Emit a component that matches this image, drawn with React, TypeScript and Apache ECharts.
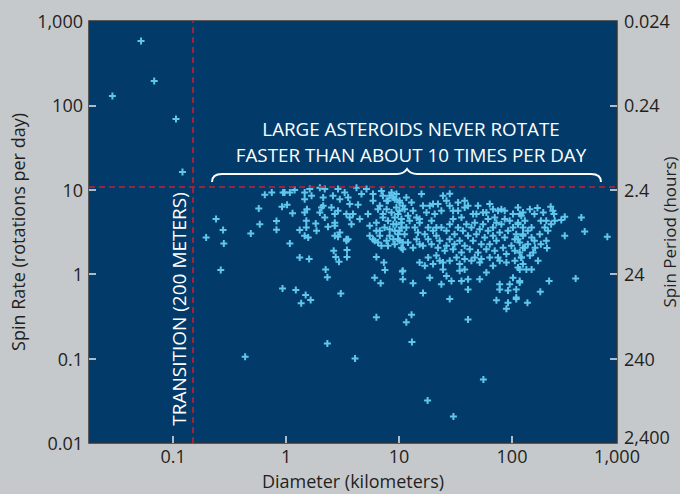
import React, { useEffect, useRef } from 'react';
import * as echarts from 'echarts';

// [diameter km, rotations per day]
const fastSmallRotators: number[][] = [
  [0.029, 129], [0.052, 578], [0.068, 194], [0.106, 69], [0.121, 16.2],
];

const subKmAsteroids: number[][] = [
  [0.196, 2.72], [0.24, 4.5], [0.264, 1.12], [0.277, 3.33], [0.281, 2.31], [0.434, 0.105],
  [0.487, 3.04], [0.573, 6.0], [0.585, 3.92], [0.648, 8.73], [0.747, 9.29], [0.822, 4.26],
  [0.822, 3.36], [0.92, 6.29], [0.93, 0.678], [0.94, 9.29],
];

const oneToTenKm: number[][] = [
  [0.97, 9.29], [1.08, 9.29], [1.19, 9.92], [1.46, 9.29], [1.62, 10.2], [1.99, 10.6], [1.68, 8.5],
  [1.46, 7.75], [2.2, 10.2], [2.6, 8.5], [2.88, 10.2], [2.99, 7.75], [2.13, 8.1], [2.06, 6.17],
  [3.3, 9.29], [3.54, 8.1], [4.2, 10.6], [4.65, 8.9], [5.15, 10.2], [5.88, 8.9], [5.88, 7.4],
  [6.98, 9.7], [7.76, 7.4], [8.58, 9.29], [9.17, 7.75], [10.1, 7.07],
  [1.02, 6.65], [1.14, 5.29], [1.46, 5.38], [1.53, 5.9], [2.13, 6.47], [2.52, 6.17], [2.88, 5.63],
  [3.66, 6.77], [4.34, 6.65], [3.66, 4.7], [4.49, 4.5], [5.31, 5.15], [5.5, 3.74], [6.51, 5.9],
  [7.2, 5.15], [7.98, 4.29], [8.26, 3.42], [9.48, 6.17], [10.5, 4.5], [10.1, 3.27], [5.5, 2.85],
  [6.08, 2.49], [6.98, 2.17], [7.98, 2.17], [9.17, 2.27], [10.8, 2.37],
  [1.51, 4.29], [1.51, 3.58], [1.32, 3.33], [1.83, 4.0], [1.86, 3.27], [2.35, 3.65], [2.7, 4.08],
  [2.7, 3.74], [2.99, 3.12], [2.88, 2.77], [3.54, 2.6], [1.46, 2.85], [1.57, 2.72], [1.08, 2.31],
  [1.32, 1.58], [1.6, 1.51], [2.64, 1.89], [2.75, 1.6], [2.94, 1.4], [3.46, 1.94], [3.46, 1.6],
  [2.24, 1.14], [2.32, 0.92], [6.3, 1.6], [7.34, 1.38], [7.5, 1.12], [6.08, 0.91], [6.87, 0.78],
  [10.7, 1.08], [1.22, 0.65], [1.49, 0.566], [1.65, 0.496], [1.36, 0.454], [3.05, 0.59], [6.3, 0.31],
  [3.42, 2.49], [8.26, 8.5], [9.48, 8.9], [9.8, 5.15], [8.9, 3.92], [9.8, 2.98], [8.9, 2.6],
  [6.76, 3.27], [6.3, 4.08], [6.76, 6.47], [7.2, 4.7], [7.76, 5.9], [8.58, 5.38], [9.17, 4.7],
  [10.1, 5.63], [9.48, 3.92], [10.5, 3.58], [9.17, 3.27], [8.26, 2.85], [9.8, 2.6], [10.5, 2.06],
  [7.76, 2.49], [6.76, 2.85], [7.45, 3.58], [6.3, 3.27], [5.88, 2.6], [6.51, 2.37], [7.98, 7.4],
  [8.9, 8.1], [7.2, 8.5], [3.42, 5.15], [3.91, 5.15], [3.79, 3.92], [2.7, 5.15], [2.7, 2.85],
  [2.2, 4.7], [1.99, 5.38], [3.42, 2.6],
];

const tenToHundredKm: number[][] = [
  [15.8, 8.9], [24.5, 8.5], [28.1, 9.0], [11.6, 8.1], [12.9, 7.07], [10.8, 6.47], [13.3, 5.63],
  [12.0, 4.93], [10.5, 4.08], [11.6, 3.58], [13.8, 3.58], [15.2, 4.08], [16.3, 6.47], [18.7, 6.47],
  [22.1, 6.77], [26.3, 7.4], [28.1, 6.47], [17.5, 5.38], [20.7, 5.15], [23.7, 5.63], [30.1, 5.63],
  [33.3, 5.63], [38.1, 6.17], [40.8, 6.47], [50.0, 6.47], [63.5, 6.77], [75.2, 5.63], [86.2, 5.63],
  [121, 4.93], [113, 4.08], [95.4, 4.29], [80.5, 3.92], [67.9, 3.58], [55.4, 3.92], [46.8, 4.08],
  [39.5, 3.92], [33.3, 3.58], [28.1, 3.92], [23.7, 3.58], [20.0, 3.27], [16.9, 2.98], [14.3, 2.6],
  [12.0, 2.37], [10.8, 1.98], [13.3, 2.06], [16.3, 2.17], [19.4, 2.27], [22.9, 2.49], [28.1, 2.6],
  [34.4, 2.49], [40.8, 2.85], [48.4, 2.98], [57.3, 2.72], [67.9, 2.85], [77.8, 3.12], [92.2, 3.27],
  [109, 2.98], [125, 3.58], [117, 2.37], [98.8, 2.17], [83.4, 2.06], [70.3, 1.89], [59.3, 1.98],
  [50.0, 1.81], [42.3, 1.98], [35.7, 1.81], [30.1, 1.98], [25.4, 1.89], [21.4, 1.66], [18.1, 1.58],
  [15.2, 1.38], [16.9, 1.26], [20.0, 1.32], [24.5, 1.38], [24.5, 1.14], [26.3, 0.95], [29.1, 0.83],
  [23.7, 0.76], [18.7, 0.91], [34.4, 1.32], [34.4, 1.1], [38.1, 1.14], [35.7, 0.83], [40.8, 0.87],
  [40.8, 0.66], [43.7, 1.44], [51.8, 1.38], [51.8, 0.87], [59.3, 1.05], [67.9, 1.26], [77.8, 1.44],
  [89.2, 1.38], [106, 1.44], [121, 1.58], [117, 1.14], [102, 0.91], [95.4, 0.76], [77.8, 0.76],
  [77.8, 0.66], [92.2, 0.64], [109, 0.66], [117, 0.8], [72.8, 0.49], [92.2, 0.46], [89.2, 0.39],
  [109, 0.51], [28.1, 0.51], [16.3, 0.6], [13.3, 0.78], [10.8, 1.1], [10.8, 0.87], [12.9, 0.33],
  [11.6, 0.27], [40.8, 0.29],
  [55.4, 5.38], [45.2, 5.15], [61.4, 4.5], [70.3, 4.7], [102, 5.15], [35.7, 4.7], [30.1, 4.5],
  [19.4, 4.29], [11.2, 2.98], [14.7, 3.12], [21.4, 2.85], [10.1, 2.49],
  [10.1, 7.4], [11.2, 5.9], [12.4, 4.29], [14.3, 4.7], [15.2, 2.27], [18.1, 3.58], [18.1, 2.6],
  [21.4, 3.58], [22.1, 2.06], [26.3, 3.27], [26.3, 2.17], [31.0, 2.98], [31.0, 2.27], [36.8, 3.27],
  [38.1, 2.17], [43.7, 3.58], [45.2, 2.49], [51.8, 3.42], [53.5, 2.27], [61.4, 3.27], [63.5, 2.27],
  [72.8, 4.08], [72.8, 2.49], [86.2, 2.72], [86.2, 4.5], [102, 3.58], [106, 2.6], [125, 2.85],
  [125, 2.06], [106, 1.89], [89.2, 1.73], [75.2, 1.58], [63.5, 1.58], [53.5, 1.51], [46.8, 1.58],
  [38.1, 1.51], [32.3, 1.58], [28.1, 1.44], [22.9, 1.44], [15.2, 4.5], [20.0, 6.77], [33.3, 7.07],
  [38.1, 7.4], [48.4, 5.15], [59.3, 5.38], [67.9, 5.9], [80.5, 5.9], [113, 6.17], [125, 5.38],
];

const overHundredKm: number[][] = [
  [144, 5.9], [168, 6.07], [220, 6.29], [235, 5.15], [293, 4.79], [273, 4.4], [411, 4.7], [440, 3.21],
  [293, 2.85], [698, 2.77], [208, 3.27], [201, 2.49], [204, 2.04], [160, 2.06], [170, 1.44],
  [149, 1.14], [125, 1.32], [117, 0.83], [109, 0.53], [137, 0.46], [178, 0.62], [213, 0.83],
  [366, 0.89], [239, 4.29], [180, 4.29], [158, 5.15], [195, 3.58], [130, 4.29], [117, 5.15],
  [138, 3.27], [158, 2.49], [130, 2.06], [121, 1.58], [144, 1.66], [113, 2.6], [222, 3.92],
  [113, 3.92], [125, 2.98], [149, 3.58], [176, 2.98], [149, 2.72], [180, 2.27], [138, 2.27],
  [117, 1.81], [154, 1.81], [134, 1.14], [113, 1.2], [230, 5.63], [189, 5.38], [201, 4.29],
];

const slowRotators: number[][] = [
  [2.32, 0.151], [4.08, 0.1], [13.0, 0.157], [55.8, 0.0565], [17.9, 0.0319], [30.3, 0.0206],
];

const xTickValues = [0.1, 1, 10, 100];
const yTickValues = [0.1, 1, 10, 100];
const transitionDiameterKm = 0.153;
const spinBarrierRate = 11;
const annotationLines = ['LARGE ASTEROIDS NEVER ROTATE', 'FASTER THAN ABOUT 10 TIMES PER DAY'];
const transitionLabel = 'TRANSITION (200 METERS)';

const braceD =
  'M212,182 C212,177 215,174 222,174 L397,174 C403,174 405,172 407,169 C409,172 411,174 417,174 L591,174 C598,174 601,177 601,182';
echarts.graphic.registerShape('brace', echarts.graphic.extendPath(braceD, {}));

const FONT = '"Open Sans"';
const fmt = (v: number) =>
  Number(v.toPrecision(3)).toLocaleString('en-US', { maximumFractionDigits: 3 });
const isDecade = (v: number) => {
  const lg = Math.log10(v);
  return Math.abs(lg - Math.round(lg)) < 1e-6;
};

export default function App() {
  const ref = useRef<HTMLDivElement>(null);
  useEffect(() => {
    if (!ref.current) return;
    const chart = echarts.init(ref.current, undefined, { renderer: 'svg' });
    const allData = [
      ...fastSmallRotators,
      ...subKmAsteroids,
      ...oneToTenKm,
      ...tenToHundredKm,
      ...overHundredKm,
      ...slowRotators,
    ];
    const tickStyle = { inside: true, length: 7, lineStyle: { color: '#e8e8e8', width: 1.5 } };
    const labelBase = { color: '#231f20', fontFamily: FONT, fontSize: 18 };
    const nameBase = { color: '#231f20', fontFamily: FONT, fontSize: 18 };
    const whiteText = {
      fill: '#ffffff',
      font: `18.8px ${FONT}`,
      textAlign: 'center',
      textVerticalAlign: 'middle',
    };
    chart.setOption({
      animation: false,
      backgroundColor: '#c6c9cc',
      grid: {
        left: 89,
        top: 21,
        right: 63,
        bottom: 51,
        outerBoundsMode: 'none',
        containLabel: false,
        show: true,
        backgroundColor: '#023a69',
        borderColor: '#333333',
        borderWidth: 1.5,
      },
      xAxis: {
        type: 'log',
        min: 0.018,
        max: 850,
        name: 'Diameter (kilometers)',
        nameLocation: 'middle',
        nameGap: 29,
        nameMoveOverlap: false,
        nameTextStyle: nameBase,
        axisLine: { show: false },
        splitLine: { show: false },
        axisTick: { ...tickStyle, customValues: xTickValues },
        axisLabel: {
          ...labelBase,
          margin: 4,
          hideOverlap: false,
          formatter: (v: number) => (isDecade(v) ? fmt(v) : v > 800 ? '1,000' : ''),
        },
      },
      yAxis: [
        {
          type: 'log',
          min: 0.01,
          max: 1000,
          name: 'Spin Rate (rotations per day)',
          nameLocation: 'middle',
          nameGap: 62,
          nameMoveOverlap: false,
          nameTextStyle: nameBase,
          axisLine: { show: false },
          splitLine: { show: false },
          axisTick: { ...tickStyle, customValues: yTickValues },
          axisLabel: { ...labelBase, margin: 6, formatter: (v: number) => fmt(v) },
        },
        {
          type: 'log',
          min: 0.01,
          max: 1000,
          position: 'right',
          name: 'Spin Period (hours)',
          nameLocation: 'middle',
          nameGap: 44,
          nameMoveOverlap: false,
          nameTextStyle: { ...nameBase, fontSize: 17 },
          axisLine: { show: false },
          splitLine: { show: false },
          axisTick: { ...tickStyle, customValues: yTickValues },
          axisLabel: {
            ...labelBase,
            margin: 7,
            formatter: (v: number) => (v < 0.02 ? `{up|${fmt(24 / v)}}` : fmt(24 / v)),
            rich: {
              up: { fontFamily: FONT, fontSize: 18, color: '#231f20', padding: [0, 0, 12, 0] },
            },
          },
        },
      ],
      series: [
        {
          type: 'scatter',
          data: allData,
          symbol: 'path://M2.5,0H4.5V2.5H7V4.5H4.5V7H2.5V4.5H0V2.5H2.5Z',
          symbolSize: 7,
          itemStyle: { color: '#5fc6ee', opacity: 1 },
          markLine: {
            silent: true,
            symbol: 'none',
            label: { show: false },
            lineStyle: { color: '#c8202e', type: [6, 4], width: 1.5 },
            data: [{ xAxis: transitionDiameterKm }, { yAxis: spinBarrierRate }],
          },
        },
      ],
      graphic: [
        {
          type: 'brace',
          x: 0,
          y: 0,
          silent: true,
          style: { stroke: '#ffffff', lineWidth: 2, fill: null },
        },
        {
          type: 'text',
          x: 411,
          y: 129,
          silent: true,
          style: { ...whiteText, text: annotationLines[0] },
        },
        {
          type: 'text',
          x: 411,
          y: 155,
          silent: true,
          style: { ...whiteText, text: annotationLines[1] },
        },
        {
          type: 'text',
          x: 179,
          y: 309,
          rotation: Math.PI / 2,
          silent: true,
          style: { ...whiteText, font: `19px ${FONT}`, text: transitionLabel },
        },
      ],
    });
    return () => chart.dispose();
  }, []);
  return (
    <div
      ref={ref}
      style={{ position: 'fixed', left: 0, top: 0, width: 680, height: 494 }}
    />
  );
}
